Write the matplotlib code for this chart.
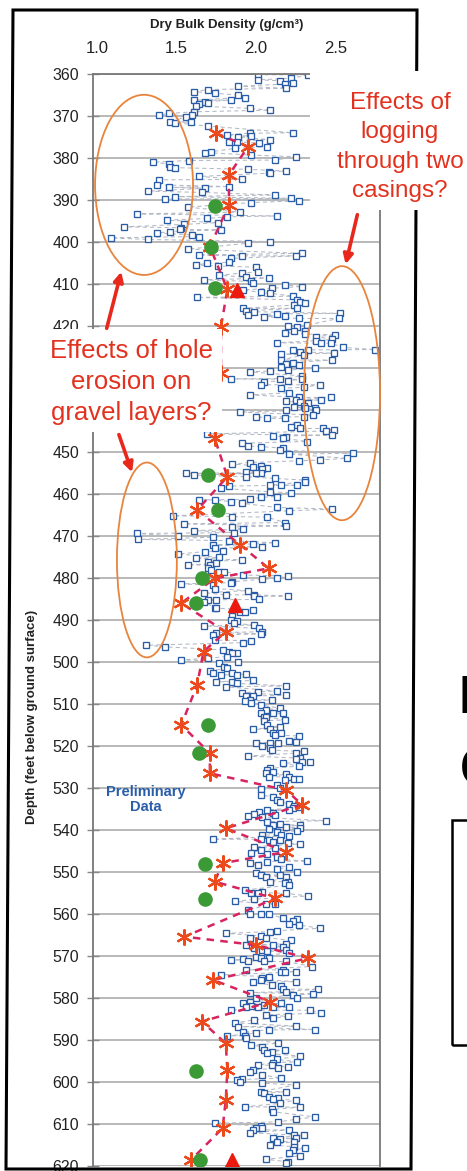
import numpy as np
import matplotlib.pyplot as plt
from matplotlib.patches import Ellipse, Rectangle, Polygon, FancyArrowPatch

plt.rcParams['font.family'] = ['Liberation Sans', 'DejaVu Sans']

# log readings: (depth ft, dry bulk density g/cm3)
log_pts = [
    (360.2, 2.01), (361.4, 2.01), (361.6, 2.15), (362.4, 2.18), (363.4, 2.19), (361.0, 2.22), (362.1, 2.23),
    (360.2, 2.33), (364.2, 1.61), (363.7, 1.70), (364.6, 1.74), (362.9, 1.89), (365.0, 1.89), (365.6, 1.93),
    (366.2, 1.84), (366.2, 1.61), (367.6, 1.62), (367.1, 1.64), (366.6, 1.68), (367.0, 1.70), (368.2, 1.96),
    (368.6, 2.09), (369.0, 1.61), (369.8, 1.39), (369.4, 1.45), (370.2, 1.56), (369.8, 1.60),
    (371.4, 1.46), (371.6, 1.49), (371.4, 1.59), (372.4, 1.70), (374.5, 1.82), (375.1, 1.89), (374.1, 1.96),
    (374.8, 1.97), (375.6, 2.09), (374.0, 2.23), (376.1, 1.83), (376.1, 1.88), (377.7, 1.87), (379.3, 1.97),
    (376.5, 2.02), (377.3, 2.07), (378.7, 1.68), (378.5, 1.72), (380.5, 2.12), (379.7, 2.25), (381.0, 1.35),
    (381.4, 1.45), (382.1, 1.46), (382.3, 1.49), (380.6, 1.58), (384.4, 1.64), (382.7, 1.95), (383.3, 2.08),
    (383.6, 2.09), (383.1, 2.19), (385.1, 1.91), (385.2, 1.39), (386.4, 1.38), (387.0, 1.45), (387.9, 1.32),
    (387.2, 1.68), (388.2, 1.66), (386.8, 1.83), (389.2, 1.49), (389.8, 1.43), (388.8, 2.12), (389.6, 2.22),
    (390.2, 2.27), (390.6, 1.97), (391.7, 1.57), (392.9, 1.90), (394.0, 1.82), (393.3, 1.25), (393.8, 2.13),
    (394.4, 1.69), (394.8, 1.44), (395.4, 1.76), (395.8, 1.55), (396.6, 1.53), (396.4, 1.17), (397.9, 1.38),
    (397.5, 1.46), (397.0, 1.52), (397.1, 1.78), (399.0, 1.09), (399.4, 1.32), (398.3, 1.60), (398.7, 1.64),
    (401.7, 1.57), (400.3, 1.95), (399.9, 2.09), (403.1, 1.64), (403.9, 1.84), (404.8, 1.83), (403.3, 1.91),
    (403.3, 2.25), (402.7, 2.29), (405.5, 1.62), (405.1, 1.69), (405.7, 1.76), (406.0, 2.00), (407.1, 2.01),
    (407.4, 1.91), (408.4, 1.94), (407.9, 1.77), (408.6, 2.08), (409.4, 1.97), (409.8, 1.98), (409.0, 1.67),
    (410.2, 2.18), (410.6, 2.29), (411.0, 2.10), (412.0, 2.03), (412.2, 2.09), (411.4, 1.92), (413.2, 1.63),
    (412.9, 2.23), (413.8, 2.26), (414.2, 2.28), (415.0, 2.24), (414.6, 2.31), (415.8, 2.26), (415.8, 1.92),
    (416.4, 1.94), (416.6, 1.99), (417.1, 2.13), (418.2, 2.27), (417.0, 2.53), (418.2, 2.52),
    (417.4, 1.95), (417.8, 2.05), (417.6, 2.18), (420.0, 2.20), (419.8, 2.32), (420.3, 2.26), (421.6, 2.18),
    (421.3, 2.24), (421.1, 2.31), (421.9, 2.31), (422.5, 2.38), (423.5, 2.38), (423.2, 2.48), (422.1, 2.50),
    (424.1, 2.41), (424.0, 2.13), (424.1, 2.47), (425.1, 2.55), (425.6, 2.75), (425.7, 2.23), (426.1, 2.28),
    (426.9, 2.30), (426.7, 2.16), (425.7, 2.33), (426.5, 2.49), (428.1, 2.48), (428.1, 2.16), (429.0, 2.19),
    (428.7, 2.23), (429.3, 2.27), (429.7, 2.16), (430.5, 2.20), (430.1, 2.37), (430.9, 1.96), (430.7, 2.09),
    (432.6, 1.84), (433.3, 2.05), (432.5, 2.15), (433.0, 2.20), (431.9, 2.29), (432.7, 2.29), (434.0, 2.03),
    (434.8, 2.16), (435.9, 2.21), (434.6, 2.30), (434.0, 2.40), (436.4, 1.96), (437.9, 2.19), (437.6, 2.25),
    (437.0, 2.27), (438.2, 2.28), (438.4, 2.33), (437.6, 2.41), (437.0, 2.47), (440.0, 2.19), (439.2, 2.24),
    (439.0, 2.30), (439.6, 2.31), (439.6, 2.37), (440.0, 2.38), (440.5, 1.90), (441.7, 2.00), (442.0, 2.07),
    (442.0, 2.18), (441.6, 2.30), (441.2, 2.36), (444.0, 2.22), (443.6, 2.26), (444.4, 2.28), (444.4, 2.42),
    (445.0, 2.44), (446.0, 2.48), (444.8, 2.49), (446.2, 2.11), (446.7, 2.17), (446.5, 2.19), (447.5, 2.32),
    (447.9, 1.91), (448.6, 1.95), (448.7, 2.03), (445.7, 1.69), (449.5, 2.15), (449.1, 2.17), (450.5, 2.21),
    (452.1, 2.27), (451.9, 2.40), (451.5, 2.57), (450.3, 2.61), (452.9, 1.85), (452.5, 1.96), (453.5, 1.98),
    (453.3, 2.03), (454.1, 2.04), (453.9, 2.07), (454.7, 1.94), (455.1, 2.00), (454.9, 2.03), (455.1, 1.56),
    (455.5, 1.61), (456.3, 2.12), (456.7, 2.31), (457.1, 2.31), (455.9, 1.94), (457.9, 2.09), (457.9, 2.16),
    (457.9, 2.26), (458.1, 1.83), (458.6, 1.78), (459.5, 2.09), (459.7, 2.22), (460.6, 2.13), (460.8, 2.03),
    (461.3, 1.96), (462.2, 1.91), (461.8, 1.84), (461.4, 1.74), (461.4, 1.64), (465.2, 1.48), (463.2, 2.13),
    (464.0, 2.21), (463.6, 2.48), (465.4, 1.85), (465.5, 2.07),
    (466.8, 2.18), (467.6, 2.19), (467.1, 1.55), (468.7, 1.61), (469.4, 1.25), (470.8, 1.26), (470.0, 1.51),
    (470.3, 1.73), (471.1, 1.83), (469.2, 1.86), (468.4, 1.92), (467.8, 1.85), (472.1, 1.73), (472.9, 1.74),
    (471.9, 1.98), (472.7, 2.04), (471.6, 2.12), (473.5, 1.79), (475.1, 1.77), (474.3, 1.51), (473.7, 1.68),
    (475.3, 1.62), (476.9, 1.57), (476.1, 1.70), (476.9, 1.71), (477.7, 1.70), (478.1, 1.72), (476.5, 1.75),
    (478.5, 1.77), (478.5, 1.80), (475.7, 1.91), (479.3, 1.92), (480.3, 2.04), (480.1, 2.13), (479.5, 2.20),
    (481.4, 1.53), (481.7, 1.73), (482.5, 1.74), (481.1, 1.84), (480.9, 1.85), (483.0, 1.95), (484.4, 1.99),
    (485.1, 2.02), (484.0, 1.99), (484.3, 2.20), (484.0, 1.81), (483.5, 1.67), (485.6, 1.67), (485.2, 1.70),
    (485.2, 1.75), (487.1, 1.74), (487.2, 1.75), (488.0, 1.90), (488.2, 1.93), (487.6, 1.98), (489.0, 1.85),
    (490.0, 1.84), (490.2, 1.88), (490.8, 1.86), (491.2, 1.99), (492.0, 2.02), (492.8, 2.04), (493.3, 2.03),
    (491.4, 1.67), (493.6, 1.73), (493.0, 1.75), (494.8, 1.74), (495.4, 1.92), (494.9, 1.97), (496.0, 1.31),
    (496.4, 1.43), (497.1, 1.79), (497.5, 1.83), (497.9, 1.85), (497.8, 1.88), (498.7, 1.82), (499.9, 1.89),
    (499.5, 1.53), (499.1, 1.70), (502.1, 1.71), (502.5, 1.73), (500.3, 1.77), (501.1, 1.80), (501.5, 1.82),
    (502.7, 1.85), (503.1, 1.88), (503.1, 1.78), (502.9, 1.94), (504.4, 1.98), (504.7, 1.75), (505.9, 1.81),
    (504.7, 1.85), (505.1, 1.88), (507.3, 1.91), (508.2, 1.94), (509.0, 1.96), (508.1, 1.98), (507.1, 2.01),
    (509.0, 2.10), (506.9, 2.13), (505.7, 2.19), (507.9, 2.19), (509.4, 1.93), (509.8, 1.97), (510.2, 2.03),
    (511.4, 2.06), (511.0, 2.15), (512.2, 2.17), (513.0, 2.05), (512.2, 2.11),
    (512.2, 2.03), (513.0, 2.06), (513.8, 2.18), (514.0, 2.05), (515.0, 2.07), (516.0, 2.09), (515.5, 2.15),
    (517.4, 2.12), (517.0, 2.16), (516.8, 2.11), (516.0, 1.98), (517.6, 2.27), (518.7, 2.21), (519.0, 2.25),
    (519.4, 2.14), (519.4, 2.09), (519.2, 2.00), (520.1, 2.04), (521.0, 2.10), (520.5, 2.09), (521.3, 2.30),
    (521.7, 2.25), (523.1, 2.25), (522.9, 2.28), (523.9, 2.29), (523.9, 2.34), (522.4, 1.95), (524.1, 2.17),
    (524.8, 2.27), (525.7, 2.07), (525.3, 2.09), (526.5, 2.06), (526.3, 2.11), (527.3, 2.08), (526.7, 2.19),
    (527.4, 2.21), (527.9, 2.24), (527.9, 2.27), (528.1, 2.18), (529.3, 2.13), (530.1, 2.15), (530.3, 2.03),
    (531.7, 2.03), (532.1, 2.11), (532.9, 2.13), (533.3, 2.15), (533.8, 2.21), (534.4, 2.24), (534.8, 2.23),
    (535.2, 2.21), (534.6, 2.28), (535.6, 2.02), (535.2, 2.07), (536.0, 2.11), (536.4, 2.12), (536.7, 1.95),
    (536.2, 1.99), (537.0, 2.04), (537.8, 2.44), (538.0, 2.07), (538.8, 2.11), (538.6, 2.15), (539.2, 2.19),
    (538.8, 2.28), (539.6, 2.28), (540.2, 2.26), (539.8, 2.08), (541.2, 2.04), (540.4, 2.13), (541.2, 2.16),
    (541.4, 2.21), (542.2, 1.73), (542.2, 2.03), (542.4, 2.08), (542.8, 2.11), (542.4, 2.15), (543.2, 2.20),
    (543.3, 2.28), (544.0, 1.99), (545.4, 1.97), (544.8, 2.03), (545.6, 2.07), (544.4, 2.12), (546.4, 2.13),
    (547.0, 2.16), (547.9, 1.96), (548.3, 2.01), (547.5, 2.07), (547.4, 2.32), (549.9, 2.26), (548.7, 2.21),
    (550.3, 2.00), (550.7, 2.03), (551.1, 2.06), (552.3, 2.09), (549.4, 2.13), (550.7, 2.15), (551.1, 2.19),
    (552.3, 2.20), (552.7, 2.18), (553.1, 2.21), (554.3, 1.93), (554.9, 1.97), (554.9, 2.01), (554.7, 2.04),
    (555.7, 2.33), (555.1, 2.19), (557.0, 1.87), (556.5, 1.99), (557.5, 2.06), (557.5, 2.12),
    (559.0, 1.95), (560.0, 1.96), (560.0, 2.03), (560.0, 2.08), (561.0, 2.17), (561.6, 2.23), (561.3, 2.26),
    (562.4, 2.21), (562.6, 2.27), (563.4, 2.40), (564.6, 1.81), (565.6, 1.96), (565.2, 2.03), (565.6, 2.06),
    (564.2, 2.09), (564.0, 2.13), (567.4, 1.94), (568.2, 1.99), (568.5, 2.04), (568.8, 2.07), (567.4, 2.11),
    (567.8, 2.17), (567.1, 2.19), (566.3, 2.22), (568.6, 2.19), (569.2, 2.21), (570.9, 1.84), (570.8, 1.92),
    (571.1, 1.95), (570.2, 2.00), (570.5, 2.03), (571.3, 2.05), (570.5, 2.08), (571.3, 2.19), (573.7, 2.16),
    (573.3, 2.17), (573.9, 2.18), (573.7, 2.25), (572.5, 2.35), (573.3, 1.94), (574.5, 1.78), (576.3, 1.98),
    (575.6, 2.03), (575.3, 2.04), (574.9, 2.08), (576.9, 2.10), (577.1, 2.16), (576.1, 2.25), (577.9, 2.17),
    (578.5, 2.19), (579.3, 2.23), (580.1, 2.26), (577.9, 2.39), (579.0, 2.36), (578.7, 1.96), (580.1, 2.00),
    (580.9, 1.96), (581.3, 1.92), (582.1, 1.94), (581.9, 1.97), (582.1, 2.01), (581.7, 2.05), (581.3, 2.16),
    (582.2, 2.21), (582.1, 2.11), (582.9, 1.84), (582.9, 2.34), (583.6, 2.41), (585.2, 1.99), (584.0, 2.06),
    (584.8, 2.11), (584.4, 2.20), (585.9, 1.87), (586.8, 1.89), (588.0, 1.92), (589.0, 1.93), (589.6, 1.94),
    (588.4, 2.00), (587.6, 2.08), (586.7, 2.25), (587.5, 2.37), (589.0, 1.82), (591.2, 1.97), (591.6, 2.04),
    (592.4, 2.05), (593.2, 2.07), (592.8, 2.10), (590.8, 2.14), (592.4, 2.18), (593.8, 2.28), (595.2, 2.26),
    (595.4, 2.11), (594.6, 2.13), (596.0, 2.10), (596.4, 2.20), (596.7, 2.14), (596.0, 2.01), (597.5, 1.96),
    (597.1, 1.98), (599.5, 1.88), (599.4, 1.91), (599.9, 1.90), (598.3, 2.04), (599.1, 2.16), (600.3, 2.04),
    (602.3, 2.03), (602.7, 2.05), (603.5, 2.08), (604.1, 2.11), (603.9, 2.14), (602.3, 2.19), (600.7, 2.25),
    (604.3, 2.25), (606.0, 2.28), (605.1, 2.15), (606.5, 2.10), (607.1, 2.11), (605.9, 1.93), (608.3, 2.37),
    (608.9, 2.25), (609.5, 2.14), (610.5, 2.03), (611.0, 2.00), (611.4, 1.98), (612.1, 1.96), (611.0, 2.04),
    (609.8, 1.74), (611.4, 2.21), (612.6, 2.30), (612.6, 2.24), (613.4, 2.25), (614.2, 2.24), (615.4, 2.24),
    (616.2, 2.23), (617.0, 2.21), (613.6, 2.15), (613.4, 2.11), (614.2, 2.13), (615.0, 2.09), (615.8, 2.31),
    (617.6, 2.28), (619.0, 2.20), (619.4, 2.19), (618.4, 2.06),
]

# core sample results
core_depth = [374.1, 377.3, 384.0, 391.2, 401.1, 411.3, 420.2, 431.3, 446.7, 455.9, 463.8, 472.1, 477.7,
              480.1, 486.0, 492.8, 497.5, 505.5, 515.0, 521.7, 526.5, 530.5, 534.0, 539.6, 545.2, 547.9,
              552.3, 556.3, 565.4, 567.4, 570.5, 575.7, 580.9, 585.6, 590.8, 597.1, 604.3, 611.0, 618.6]
core_dens = [1.75, 1.95, 1.83, 1.83, 1.71, 1.82, 1.78, 1.78, 1.74, 1.82, 1.63, 1.90, 2.08,
             1.74, 1.53, 1.81, 1.67, 1.63, 1.53, 1.71, 1.71, 2.19, 2.29, 1.81, 2.19, 1.79,
             1.74, 2.12, 1.55, 2.00, 2.33, 1.73, 2.09, 1.66, 1.81, 1.82, 1.81, 1.79, 1.59]

green_depth = [391.4, 401.1, 411.0, 455.5, 463.8, 480.1, 486.0, 515.0, 521.6, 548.1, 556.5, 597.3, 618.6]
green_dens = [1.74, 1.72, 1.74, 1.70, 1.76, 1.66, 1.62, 1.70, 1.64, 1.68, 1.68, 1.62, 1.65]

tri_depth = [411.4, 486.4, 618.6]
tri_dens = [1.88, 1.87, 1.85]

x_ticks = [1.0, 1.5, 2.0, 2.5]
y_ticks = list(range(360, 621, 10))
# 430 and 440 sit under the callout box
y_labels = ['' if d in (430, 440) else str(d) for d in y_ticks]

W, H = 467, 1171


def fxy(x, y):
    # pixel position (from top-left) to figure fraction
    return x / W, 1 - y / H


fig = plt.figure(figsize=(W / 100, H / 100), dpi=100)
ax = fig.add_axes([93 / W, 1 - 1166 / H, (380 - 93) / W, (1166 - 74) / H])
ax.set_xlim(0.975, 2.78)
ax.set_ylim(620, 360)

pts = np.array(sorted(log_pts))
ax.plot(pts[:, 1], pts[:, 0], color='#b3b8c4', lw=0.75, ls=(0, (4, 3)), zorder=1)
ax.plot(pts[:, 1], pts[:, 0], ls='none', marker='s', ms=5.0, mfc='white', mec='#2b5ca6', mew=0.95, zorder=2)

ax.plot(core_dens, core_depth, color='#d8245e', lw=1.8, ls=(0, (3, 2.5)), zorder=3)
ax.plot(core_dens, core_depth, ls='none', marker=(6, 2, 0), ms=11.5, mec='#ec4a1c', mew=1.6, zorder=4)
ax.plot(green_dens, green_depth, ls='none', marker='o', ms=9.5, mfc='#3c9a36', mec='#3c9a36', zorder=5)
ax.plot(tri_dens, tri_depth, ls='none', marker='^', ms=9.5, mfc='#ec1a0e', mec='#ec1a0e', zorder=5)

ax.xaxis.tick_top()
ax.set_xticks(x_ticks)
ax.set_xticklabels(['%.1f' % v for v in x_ticks])
ax.tick_params(axis='x', length=0, pad=13, labelsize=12, colors='#222222')
ax.set_yticks(y_ticks)
ax.set_yticklabels(y_labels)
ax.tick_params(axis='y', direction='inout', length=8, width=1, color='#888888', pad=6, labelsize=11.5,
               labelcolor='#222222')
ax.yaxis.grid(True, color='#a6a6a6', lw=1.1)
ax.set_axisbelow(True)
for s in ['left', 'right', 'top']:
    ax.spines[s].set_color('#777777')
    ax.spines[s].set_linewidth(1.3)
ax.spines['bottom'].set_visible(False)

orange = '#e8843c'
for cx, cy, w, h in [(1.296, 386.4, 0.616, 42.9), (2.541, 436.0, 0.478, 60.5), (1.314, 475.7, 0.377, 46.4)]:
    ax.add_patch(Ellipse((cx, cy), w, h, fill=False, ec=orange, lw=1.3, clip_on=False, zorder=6))

ax.text(1.31, 532.8, 'Preliminary\nData', color='#2a5ea8', fontsize=10.5, fontweight='bold',
        ha='center', va='center', linespacing=1.05, zorder=6)

# outer frame of the figure panel
frame = Polygon([fxy(13, 10), fxy(417, 10), fxy(411, 1169), fxy(6, 1169)], closed=True, fill=False,
                ec='black', lw=2.2, transform=fig.transFigure, zorder=4)
fig.add_artist(frame)

# white backing behind the callouts
for x0, y0, x1, y1 in [(310, 71, 467, 210), (14, 329, 222, 432)]:
    fig.add_artist(Rectangle(fxy(x0, y1), (x1 - x0) / W, (y1 - y0) / H, fc='white', ec='none',
                             transform=fig.transFigure, zorder=5))

red = '#e2321f'
fig.text(*fxy(400, 147), 'Effects of\nlogging\nthrough two\ncasings?', color=red, fontsize=17.5,
         ha='center', va='center', linespacing=1.45, zorder=7)
fig.text(*fxy(131, 382), 'Effects of hole\nerosion on\ngravel layers?', color=red, fontsize=18.5,
         ha='center', va='center', linespacing=1.36, zorder=7)

for a, b in [((358, 212), (345, 267)), ((106, 331), (122, 269)), ((118, 432), (133, 475))]:
    fig.add_artist(FancyArrowPatch(fxy(*a), fxy(*b), arrowstyle='-|>', mutation_scale=14, color='#e8281c',
                                   lw=2.6, transform=fig.transFigure, zorder=8))

fig.text(*fxy(227, 25), 'Dry Bulk Density (g/cm³)', fontsize=9.5, fontweight='bold', ha='center',
         va='center', color='#222222')
fig.text(*fxy(32, 717), 'Depth (feet below ground surface)', fontsize=9.5, fontweight='bold',
         rotation=90, ha='center', va='center', color='#222222')

# neighbouring panel at the right edge
fig.text(*fxy(459, 699), 'F', fontsize=38, fontweight='bold', ha='left', va='center')
fig.text(*fxy(460, 771), 'C', fontsize=38, fontweight='bold', ha='left', va='center')
fig.add_artist(Rectangle(fxy(452, 1045), 40 / W, 225 / H, fill=False, ec='black', lw=1.8,
                         transform=fig.transFigure))

fig.savefig('out.png', dpi=100)
